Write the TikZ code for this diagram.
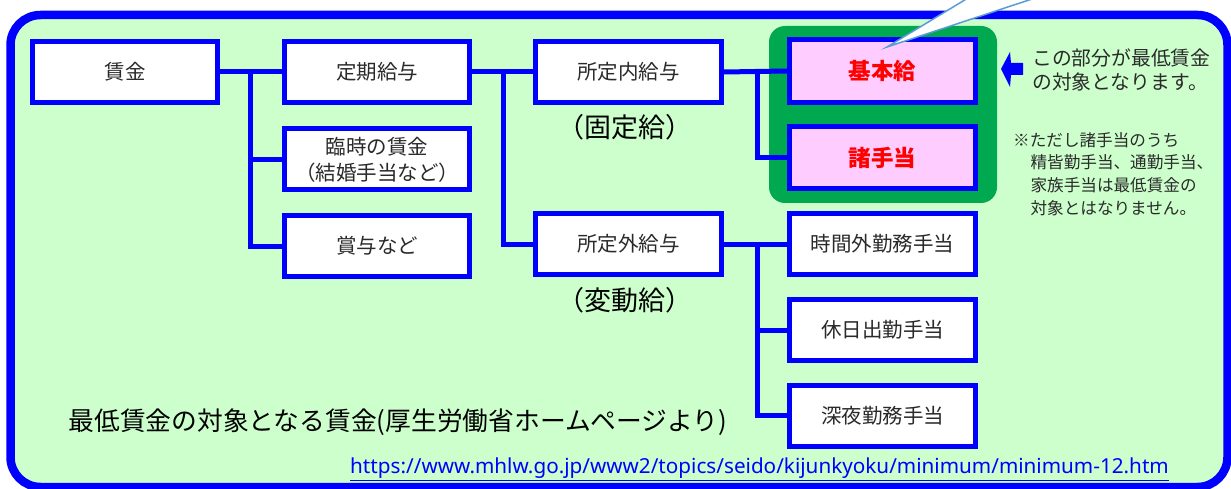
\documentclass[tikz,border=0pt]{standalone}
\usepackage{fontspec}
\setmainfont{Noto Sans CJK JP}
\newfontfamily\latinfont{Noto Sans}
\usetikzlibrary{calc}
\definecolor{frameblue}{HTML}{0000FF}
\definecolor{bggreen}{HTML}{CCFFCC}
\definecolor{boxgreen}{HTML}{00A84F}
\definecolor{pinkfill}{HTML}{FFCCFF}
\definecolor{calloutblue}{HTML}{5B9BD5}
\definecolor{txtgray}{HTML}{2A2A2A}
\begin{document}
\begin{tikzpicture}[x=1pt,y=-1pt,
  wbox/.style={draw=frameblue, line width=5pt, fill=white, minimum width=186pt, minimum height=61pt,
    inner sep=0pt, text=txtgray, font=\fontsize{20.5}{26}\selectfont, align=center},
  pbox/.style={wbox, fill=pinkfill, text=red, font=\fontsize{22.5}{26}\selectfont\bfseries},
  conn/.style={draw=frameblue, line width=5pt},
  biglabel/.style={inner sep=0pt, text=black, font=\fontsize{27}{30}\selectfont},
  note/.style={inner sep=0pt, anchor=west, align=left, text=txtgray},
]
\useasboundingbox (0,0) rectangle (1231,489);
\fill[white] (0,0) rectangle (1231,489);
\fill[bggreen, rounded corners=30pt] (10.5,15) rectangle (1227.5,487);
\fill[boxgreen, rounded corners=16pt] (769,26) rectangle (997,203);

% boxes
\node[wbox, minimum width=185pt] (chin) at (125,72) {賃金};
\node[wbox, minimum width=185pt] (teiki) at (377,72) {定期給与};
\node[wbox, minimum width=185pt] (rinji) at (377,159.5) {臨時の賃金\\（結婚手当など）};
\node[wbox, minimum width=185pt] (shoyo) at (377,246) {賞与など};
\node[wbox] (nai) at (628.5,72) {所定内給与};
\node[wbox] (gai) at (628.5,244) {所定外給与};
\node[pbox, minimum height=63pt] (kihon) at (882.5,71) {基本給};
\node[pbox, minimum height=62pt] (sho) at (882.5,157.5) {諸手当};
\node[wbox] (jikan) at (882.5,244) {時間外勤務手当};
\node[wbox] (kyuu) at (882.5,330) {休日出勤手当};
\node[wbox] (shinya) at (882.5,415.5) {深夜勤務手当};

% junctions
\path (chin.east) -- (teiki.west) coordinate[pos=0.485] (j1);
\path (teiki.east) -- (nai.west) coordinate[pos=0.52] (j2);
\path (nai.east) -- (kihon.west) coordinate[pos=0.537] (j3);
\path (gai.east) -- (jikan.west) coordinate[pos=0.537] (j4);

% connectors
\draw[conn] (chin.east) -- (teiki.west);
\draw[conn] (j1) |- (rinji.west);
\draw[conn] (j1) |- (shoyo.west);
\draw[conn] (teiki.east) -- (nai.west);
\draw[conn] (j2) |- (gai.west);
\draw[conn] (nai.east) -- (j3) -- (kihon.west);
\draw[conn] (j3) |- (sho.west);
\draw[conn] (gai.east) -- (jikan.west);
\draw[conn] (j4) |- (kyuu.west);
\draw[conn] (j4) |- (shinya.west);

% labels
\node[biglabel] (kotei) at (625,127.5) {（固定給）};
\node[biglabel] (hendo) at (625,300) {（変動給）};
\node[inner sep=0pt, text=black, font=\fontsize{25.75}{30}\selectfont] (caption) at (398,422)
  {最低賃金の対象となる賃金(厚生労働省ホームページより)};
\node[inner sep=0pt, text=frameblue, font=\latinfont\fontsize{20.7}{24}\selectfont] (url) at (759.5,469)
  {\underline{https://www.mhlw.go.jp/www2/topics/seido/kijunkyoku/minimum/minimum-12.htm}};

% right-hand notes
\fill[frameblue] (1001,69) -- (1010,52) -- (1011,63) -- (1023,63) -- (1023,75) -- (1011,75) -- (1010,87) -- cycle;
\node[note, font=\fontsize{19.8}{24}\selectfont] (note1) at (1032,70)
  {この部分が最低賃金\\の対象となります。};
\node[note, font=\fontsize{16.6}{22.7}\selectfont] (note2) at (1013,174)
  {※ただし諸手当のうち\\\hspace*{1.05em}精皆勤手当、通勤手当、\\\hspace*{1.05em}家族手当は最低賃金の\\\hspace*{1.05em}対象とはなりません。};

% outer frame
\draw[frameblue, line width=8.5pt, rounded corners=30pt] (10.5,15) rectangle (1227.5,487);

% callout tail
\fill[white] (968,-2) -- (887,47) -- (1035,-2) -- cycle;
\draw[calloutblue, line width=1.5pt] (968,-2) -- (887,47) -- (1035,-2);
\end{tikzpicture}
\end{document}
